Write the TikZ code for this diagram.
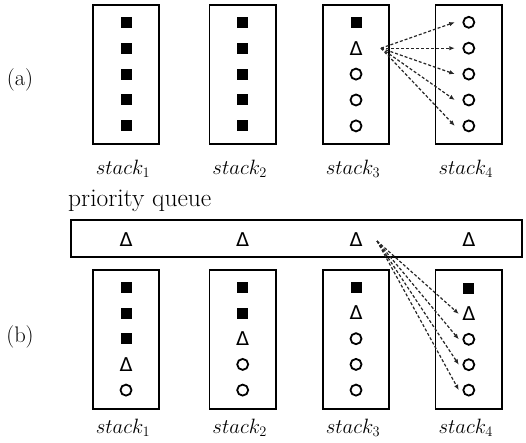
\documentclass[tikz,border=0pt]{standalone}
\usepackage{fontspec}
\newfontfamily\trifont{DejaVu Sans}
\usetikzlibrary{arrows.meta}
\def\Symsq{}
\def\Symcirc{}
\def\Symtri{Δ}
\begin{document}
\begin{tikzpicture}[x=1pt,y=-1pt,
  stackbox/.style={draw,line width=1.8pt,minimum width=66.5pt,minimum height=139.3pt,inner sep=0pt},
  qbox/.style={draw,line width=1.8pt,minimum width=451.3pt,minimum height=36.7pt,inner sep=0pt},
  sq/.style={fill,minimum size=11pt,inner sep=0pt},
  circ/.style={circle,draw,line width=1.8pt,minimum size=11pt,inner sep=0pt},
  tri/.style={inner sep=0pt,font=\trifont\fontsize{19}{19}\selectfont},
  lab/.style={font=\fontsize{22.5}{26}\selectfont,inner sep=0pt},
  arr/.style={dash pattern=on 3pt off 2pt,line width=1.2pt,black!85,-{Latex[length=5.5pt,width=4.5pt]}}
]
\useasboundingbox (0,0) rectangle (526,443);
% (a)
\node[lab] (pa) at (20,80) {(a)};
\foreach \c/\x in {1/126,2/242.7,3/356,4/468.8}{
  \node[stackbox] (A\c) at (\x,74.3) {};
  \node[lab] (la\c) at (\x-3,169) {$stack_{\c}$};
}
\foreach \t [count=\k] in {sq,sq,sq,sq,sq} \node[\t] (a1\k) at (126,{22.3+(\k-1)*25.9}) {\csname Sym\t\endcsname};
\foreach \t [count=\k] in {sq,sq,sq,sq,sq} \node[\t] (a2\k) at (242.7,{22.3+(\k-1)*25.9}) {\csname Sym\t\endcsname};
\foreach \t [count=\k] in {sq,tri,circ,circ,circ} \node[\t] (a3\k) at (356,{22.3+(\k-1)*25.9}) {\csname Sym\t\endcsname};
\foreach \t [count=\k] in {circ,circ,circ,circ,circ} \node[\t] (a4\k) at (468.8,{22.3+(\k-1)*25.9}) {\csname Sym\t\endcsname};
\foreach \k in {1,...,5} \draw[arr] ([xshift=25pt]a32.center) -- ([xshift=-14pt]a4\k.center);
% (b)
\node[lab,anchor=west,font=\fontsize{25.5}{28}\selectfont] (pq) at (68,201) {priority queue};
\node[qbox] (Q) at (296.3,238.3) {};
\foreach \c/\x in {1/126,2/242.7,3/356,4/468.8}{
  \node[tri] (q\c) at (\x,240) {\Symtri};
  \node[stackbox] (B\c) at (\x,339.7) {};
  \node[lab] (lb\c) at (\x-3,427.5) {$stack_{\c}$};
}
\node[lab] (pb) at (20,337) {(b)};
\foreach \t [count=\k] in {sq,sq,sq,tri,circ} \node[\t] (b1\k) at (126,{287.3+(\k-1)*25.7}) {\csname Sym\t\endcsname};
\foreach \t [count=\k] in {sq,sq,tri,circ,circ} \node[\t] (b2\k) at (242.7,{287.3+(\k-1)*25.7}) {\csname Sym\t\endcsname};
\foreach \t [count=\k] in {sq,tri,circ,circ,circ} \node[\t] (b3\k) at (356,{287.3+(\k-1)*25.7}) {\csname Sym\t\endcsname};
\foreach \t [count=\k] in {sq,tri,circ,circ,circ} \node[\t] (b4\k) at (468.8,{288.5+(\k-1)*25.4}) {\csname Sym\t\endcsname};
\foreach \k in {2,...,5} \draw[arr] ([xshift=21pt,yshift=-1pt]q3.center) -- ([xshift=-10pt]b4\k.center);
\end{tikzpicture}
\end{document}
